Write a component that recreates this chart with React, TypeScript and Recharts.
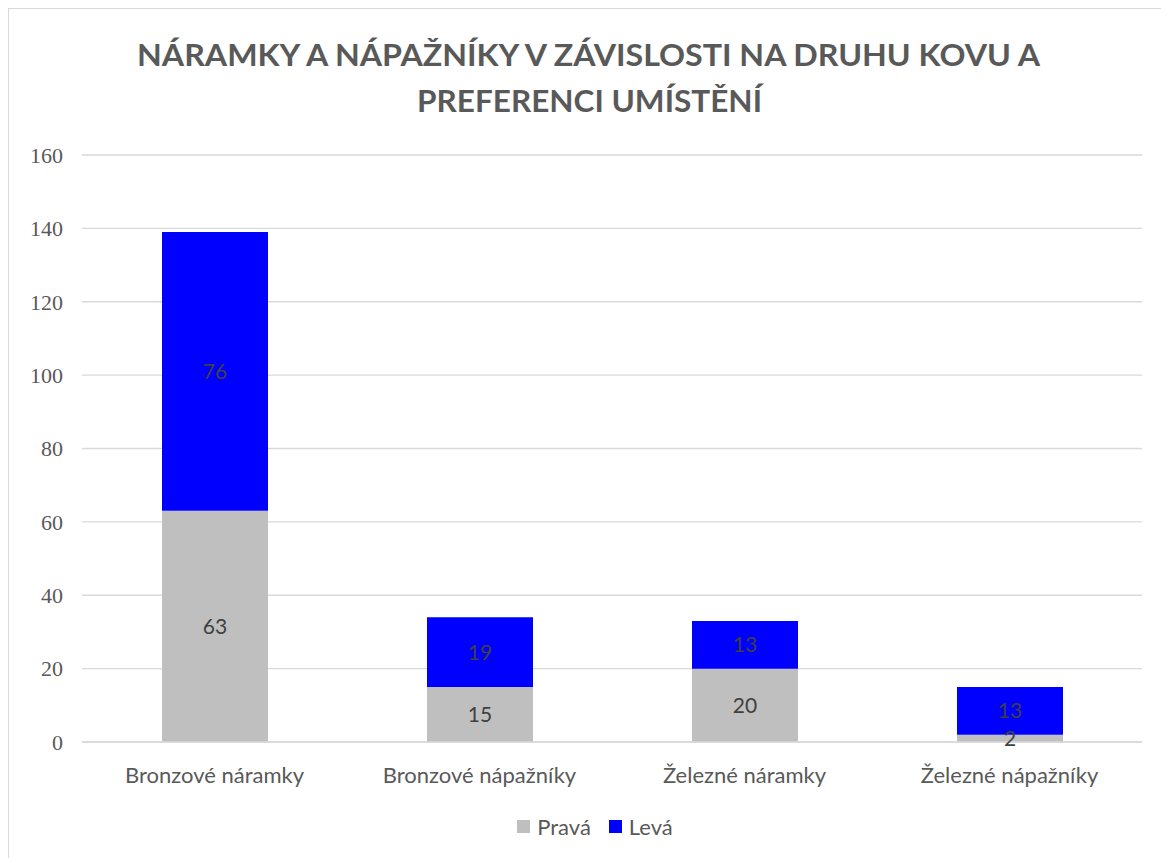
import React from 'react';
import { BarChart, Bar, XAxis, YAxis, CartesianGrid, Legend, LabelList } from 'recharts';

const categories = ['Bronzové náramky', 'Bronzové nápažníky', 'Železné náramky', 'Železné nápažníky'];
const seriesNames = ['Pravá', 'Levá'];
const pravaValues = [63, 15, 20, 2];
const levaValues = [76, 19, 13, 13];
const yTicks = [0, 20, 40, 60, 80, 100, 120, 140, 160];
const titleLines = ['NÁRAMKY A NÁPAŽNÍKY V ZÁVISLOSTI NA DRUHU KOVU A', 'PREFERENCI UMÍSTĚNÍ'];

const data = categories.map((name, i) => ({ name, prava: pravaValues[i], leva: levaValues[i] }));

const SANS = 'Lato, "Noto Sans", sans-serif';
const SERIF = '"Liberation Serif", "DejaVu Serif", serif';

const renderLegend = (props: any) => {
  const payload = [...(props.payload || [])].sort(
    (a: any, b: any) => seriesNames.indexOf(a.value) - seriesNames.indexOf(b.value)
  );
  return (
    <div style={{ display: 'flex', justifyContent: 'center', alignItems: 'center', fontFamily: SANS, fontSize: 22, color: '#595959' }}>
      {payload.map((entry: any, idx: number) => (
        <div key={idx} style={{ display: 'flex', alignItems: 'center', marginRight: idx === 0 ? 18 : 0 }}>
          <span style={{ display: 'inline-block', width: 13, height: 13, background: entry.color, marginRight: 7 }} />
          <span>{entry.value}</span>
        </div>
      ))}
    </div>
  );
};

export default function App() {
  return (
    <div style={{ position: 'absolute', top: 8, left: 8, width: 1153, height: 850, overflow: 'hidden', background: '#fff' }}>
      <div style={{ position: 'relative', width: 1162, height: 860, border: '1px solid #D9D9D9', background: '#fff' }}>
        <svg width={1162} height={130} style={{ position: 'absolute', left: 0, top: 0 }}>
          <text x={128} y={57} fontFamily={'"Liberation Sans Narrow", Lato, sans-serif'} fontWeight={700} fontSize={31} fill="#595959" textLength={903} lengthAdjust="spacingAndGlyphs">
            {titleLines[0]}
          </text>
          <text x={408} y={103} fontFamily={'"Liberation Sans Narrow", Lato, sans-serif'} fontWeight={700} fontSize={31} fill="#595959" textLength={345} lengthAdjust="spacingAndGlyphs">
            {titleLines[1]}
          </text>
        </svg>
        <BarChart width={1162} height={860} data={data} margin={{ top: 146, right: 29, left: 13, bottom: 97 }}>
          <CartesianGrid vertical={false} stroke="#D9D9D9" strokeWidth={1.3} />
          <XAxis
            dataKey="name"
            axisLine={{ stroke: '#D9D9D9', strokeWidth: 1.3 }}
            tickLine={false}
            tickSize={0}
            tickMargin={25}
            height={30}
            tick={{ fill: '#595959', fontSize: 22, fontFamily: SANS }}
            interval={0}
          />
          <YAxis
            domain={[0, 160]}
            ticks={yTicks}
            width={60}
            axisLine={false}
            tickLine={false}
            tickSize={0}
            tickMargin={19}
            tick={{ fill: '#595959', fontSize: 22, fontFamily: SERIF }}
          />
          <Legend
            layout="horizontal"
            verticalAlign="middle"
            align="center"
            content={renderLegend}
            wrapperStyle={{ top: 804, left: 0, width: 1172 }}
          />
          <Bar dataKey="prava" name={seriesNames[0]} stackId="a" fill="#BFBFBF" barSize={106} isAnimationActive={false}>
            <LabelList dataKey="prava" position="center" fill="#404040" fontSize={21} fontFamily={SANS} />
          </Bar>
          <Bar dataKey="leva" name={seriesNames[1]} stackId="a" fill="#0000FF" barSize={106} isAnimationActive={false}>
            <LabelList dataKey="leva" position="center" fill="#404040" fontSize={21} fontFamily={SANS} />
          </Bar>
        </BarChart>
      </div>
    </div>
  );
}
